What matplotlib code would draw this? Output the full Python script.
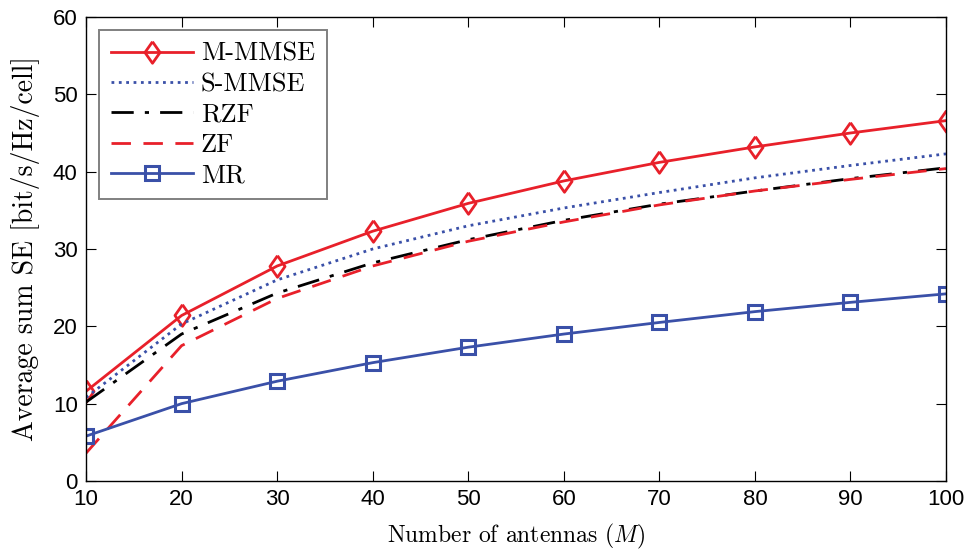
import matplotlib
matplotlib.use("Agg")
import matplotlib.pyplot as plt

M = [10, 20, 30, 40, 50, 60, 70, 80, 90, 100]
m_mmse = [11.6, 21.4, 27.8, 32.3, 35.9, 38.8, 41.2, 43.2, 45.0, 46.6]
s_mmse = [10.8, 20.3, 26.0, 30.0, 33.0, 35.3, 37.3, 39.2, 40.8, 42.3]
rzf = [10.2, 19.0, 24.3, 28.2, 31.2, 33.7, 35.8, 37.5, 39.1, 40.5]
zf = [3.6, 17.5, 23.6, 27.8, 31.0, 33.5, 35.7, 37.5, 39.0, 40.4]
mr = [5.8, 10.0, 12.9, 15.3, 17.3, 19.0, 20.5, 21.9, 23.1, 24.2]

plt.rcParams['mathtext.fontset'] = 'cm'
plt.rcParams['axes.unicode_minus'] = False

fig = plt.figure(figsize=(9.69, 5.5), dpi=100)
ax = fig.add_axes([0.0888, 0.1255, 0.8875, 0.8436])

red = '#e8202a'
blue = '#3a50a8'
diamond = [(0, 1), (0.7, 0), (0, -1), (-0.7, 0), (0, 1)]
ax.plot(M, m_mmse, '-', color=red, lw=2, marker=diamond, markersize=15.5,
        markerfacecolor='none', markeredgewidth=2, label='M-MMSE')
ax.plot(M, s_mmse, ':', color=blue, lw=2, label='S-MMSE')
ax.plot(M, rzf, '-.', color='black', lw=2, label='RZF', dashes=(8, 4, 1.5, 4))
ax.plot(M, zf, '--', color=red, lw=2, label='ZF', dashes=(7, 4.5))
ax.plot(M, mr, '-', color=blue, lw=2, marker='s', markersize=10,
        markerfacecolor='none', markeredgewidth=2.2, label='MR')

ax.set_xlim(10, 100)
ax.set_ylim(0, 60)
ax.set_xticks(M)
ax.set_yticks(range(0, 61, 10))
ax.tick_params(direction='in', top=True, right=True, labelsize=16, length=7,
               pad=6)
for lab in ax.get_xticklabels() + ax.get_yticklabels():
    lab.set_family('Liberation Sans')
for s in ax.spines.values():
    s.set_linewidth(1.0)

ax.set_xlabel('Number of antennas ($M$)', fontsize=17, family='cmr10', labelpad=8)
ax.set_ylabel('Average sum SE [bit/s/Hz/cell]', fontsize=20, family='cmr10', labelpad=9)

leg = ax.legend(loc='upper left', prop={'family': 'cmr10', 'size': 19},
                fancybox=False, edgecolor='#808080', framealpha=1,
                handlelength=3.1, borderaxespad=0.5, borderpad=0.45,
                labelspacing=0.25, handletextpad=0.3)
leg.get_frame().set_linewidth(1.4)

fig.savefig('out.png', dpi=100)
